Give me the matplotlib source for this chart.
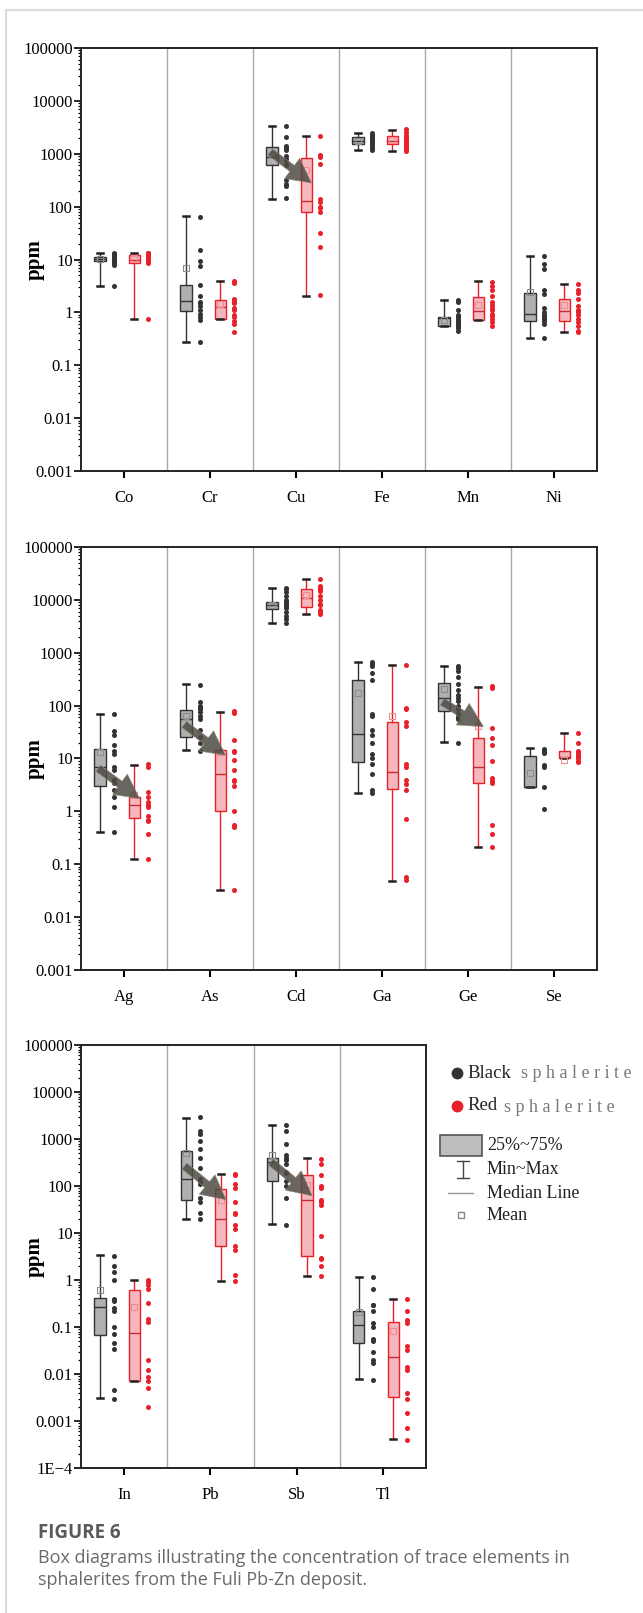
import numpy as np
import matplotlib.pyplot as plt
from matplotlib.lines import Line2D
from matplotlib.patches import Rectangle
from matplotlib.ticker import LogLocator, NullFormatter, FixedLocator, FixedFormatter

plt.rcParams['font.family'] = ['Liberation Serif', 'DejaVu Serif']

W, H = 643, 1613

# ---- panel 1 ----
elements_1 = ['Co', 'Cr', 'Cu', 'Fe', 'Mn', 'Ni']
# (min, q1, median, q3, max, mean)
black_box_1 = [
    (3.2, 9.2, 10.3, 11.3, 13.5, 10.2),
    (0.27, 1.07, 1.63, 3.3, 66, 6.8),
    (142, 606, 870, 1345, 3300, 950),
    (1165, 1500, 1750, 2100, 2475, 1750),
    (0.55, 0.55, 0.78, 0.82, 1.7, 0.72),
    (0.33, 0.69, 0.94, 2.3, 11.7, 2.4),
]
black_dots_1 = [
    [13.5, 12.8, 12, 11.5, 11, 10.5, 10.2, 10, 9.5, 9, 8.5, 8, 3.2],
    [65, 15, 9.5, 7.7, 3.3, 2.0, 1.6, 1.5, 1.3, 1.1, 0.95, 0.8, 0.72, 0.27],
    [3400, 2100, 1400, 1300, 1200, 900, 800, 650, 600, 315, 270, 250, 145],
    [2500, 2300, 2100, 2000, 1900, 1800, 1700, 1600, 1500, 1400, 1300, 1200],
    [1.75, 1.6, 1.1, 0.9, 0.85, 0.8, 0.75, 0.7, 0.65, 0.6, 0.55, 0.5, 0.45],
    [11.8, 8.2, 6.5, 2.6, 2.2, 1.2, 1.0, 0.9, 0.8, 0.75, 0.7, 0.6, 0.33],
]
red_box_1 = [
    (0.75, 8.7, 10, 12.3, 13, 10.5),
    (0.75, 0.75, 1.28, 1.75, 3.9, 1.46),
    (2.06, 78, 126, 822, 2150, 487),
    (1150, 1550, 1750, 2150, 2870, 1800),
    (0.73, 0.73, 1.05, 1.97, 3.85, 1.38),
    (0.42, 0.69, 1.05, 1.8, 3.5, 1.35),
]
red_dots_1 = [
    [13.5, 13, 12.5, 12, 11, 10.5, 10, 9.5, 9, 8.5, 0.75],
    [4, 3.6, 1.8, 1.7, 1.6, 1.5, 1.2, 1.1, 0.9, 0.8, 0.7, 0.6, 0.42],
    [2150, 950, 850, 650, 140, 120, 100, 95, 80, 32, 17, 2.1],
    [2900, 2600, 2300, 2100, 2000, 1800, 1700, 1500, 1400, 1300, 1200, 1150],
    [3.8, 3.2, 2.7, 2.0, 1.6, 1.35, 1.2, 1.1, 0.95, 0.85, 0.75, 0.65, 0.55],
    [3.5, 2.6, 2.3, 1.8, 1.3, 1.1, 1.0, 0.9, 0.75, 0.65, 0.55, 0.45, 0.42],
]
arrows_1 = [('Cu', 1080, 280)]

# ---- panel 2 ----
elements_2 = ['Ag', 'As', 'Cd', 'Ga', 'Ge', 'Se']
black_box_2 = [
    (0.4, 3.0, 6.8, 15.2, 70, 13.3),
    (14.7, 25.7, 57, 84, 260, 65),
    (3700, 6650, 8000, 9100, 17000, 8000),
    (2.2, 8.6, 29, 300, 670, 170),
    (20.6, 79, 141, 273, 560, 210),
    (2.9, 2.9, 2.9, 11.3, 15.6, 5.4),
]
black_dots_2 = [
    [70, 33, 28, 18, 14, 12, 7, 6, 4, 3.5, 2.5, 1.9, 1.2, 0.4],
    [250, 115, 100, 90, 85, 75, 65, 55, 35, 25, 20, 14],
    [17000, 16000, 14000, 12000, 10000, 9000, 8500, 8000, 7500, 7000, 6000, 5000, 4300, 3700],
    [680, 600, 550, 420, 300, 70, 65, 35, 28, 20, 12, 10, 8, 5, 2.5, 2.2],
    [560, 520, 450, 350, 260, 200, 160, 140, 120, 100, 85, 70, 60, 55, 20],
    [15, 14, 13, 12.5, 7.5, 7, 2.9, 1.1],
]
red_box_2 = [
    (0.123, 0.74, 1.3, 1.9, 7.7, 2.0),
    (0.033, 1.0, 5.2, 14.3, 76, 13),
    (5500, 7300, 10800, 16300, 24500, 12500),
    (0.049, 2.6, 5.6, 48, 580, 65),
    (0.21, 3.4, 6.8, 23.9, 226, 41),
    (10.1, 10.1, 10.5, 13.9, 30.6, 9.5),
]
red_dots_2 = [
    [7.8, 7, 2.3, 1.9, 1.5, 1.3, 1.2, 0.8, 0.7, 0.65, 0.38, 0.125],
    [78, 72, 22, 14, 13, 9.5, 6, 4, 3.8, 3, 1, 0.55, 0.5, 0.033],
    [25000, 18000, 17000, 16000, 15000, 12000, 10000, 8500, 8000, 6500, 6000, 5500],
    [580, 90, 85, 48, 42, 8, 7, 4, 3.3, 2.5, 0.72, 0.058, 0.05],
    [230, 215, 38, 24, 18, 9, 4.2, 3.8, 3.5, 0.55, 0.38, 0.21],
    [30, 20, 14, 13, 12, 11, 10.5, 10, 9, 8.5],
]
arrows_2 = [('Ag', 6.5, 1.75), ('As', 44, 11.5), ('Ge', 118, 40)]

# ---- panel 3 ----
elements_3 = ['In', 'Pb', 'Sb', 'Tl']
black_box_3 = [
    (0.0031, 0.068, 0.26, 0.42, 3.34, 0.62),
    (19.8, 51, 138, 550, 2850, 500),
    (15.6, 125, 320, 393, 1990, 450),
    (0.0077, 0.046, 0.11, 0.22, 1.14, 0.21),
]
black_dots_3 = [
    [3.3, 2, 1.5, 1, 0.4, 0.35, 0.25, 0.22, 0.1, 0.07, 0.045, 0.034, 0.0045, 0.003],
    [2900, 1500, 1300, 900, 600, 400, 240, 140, 130, 110, 55, 45, 27, 20],
    [2000, 1500, 800, 450, 400, 350, 300, 200, 190, 130, 100, 55, 15],
    [1.15, 0.65, 0.3, 0.29, 0.22, 0.12, 0.1, 0.055, 0.05, 0.03, 0.02, 0.017, 0.0075],
]
red_box_3 = [
    (0.007, 0.007, 0.074, 0.6, 0.98, 0.27),
    (0.95, 5.27, 20, 87.5, 178, 50),
    (1.2, 3.2, 50, 168, 390, 103),
    (0.00041, 0.0032, 0.023, 0.13, 0.39, 0.083),
]
red_dots_3 = [
    [1.0, 0.9, 0.8, 0.65, 0.33, 0.15, 0.13, 0.02, 0.012, 0.0085, 0.007, 0.005, 0.002],
    [180, 170, 110, 90, 45, 27, 25, 15, 12, 5.3, 4.3, 1.3, 0.95],
    [380, 300, 170, 100, 90, 50, 45, 40, 8.5, 3, 2.8, 2, 1.2],
    [0.4, 0.22, 0.14, 0.12, 0.04, 0.032, 0.014, 0.012, 0.004, 0.003, 0.0015, 0.0007, 0.0004],
]
arrows_3 = [('Pb', 265, 51), ('Sb', 323, 62)]

ytick_labels_a = ['0.001', '0.01', '0.1', '1', '10', '100', '1000', '10000', '100000']
ytick_labels_b = ['1E\u22124'] + ytick_labels_a

BLACK = '#333333'
RED = '#e8202a'


def draw_panel(ax, elements, bbox, bdots, rbox, rdots, arrows, exps, labels, width_px):
    n = len(elements)
    x = np.arange(n)
    groups = [
        (bbox, bdots, -0.28, -0.12, '#b0b0b0', BLACK, BLACK, '#8c8c8c'),
        (rbox, rdots, 0.12, 0.28, '#f5b7bd', RED, '#c42a30', '#f08a8f'),
    ]
    for stats, dots, boff, doff, face, edge, med, mean_c in groups:
        st = [dict(whislo=s[0], q1=s[1], med=s[2], q3=s[3], whishi=s[4],
                   mean=s[5], fliers=[]) for s in stats]
        ax.bxp(st, positions=x + boff, widths=0.13, capwidths=0.07,
               patch_artist=True, showmeans=True, manage_ticks=False,
               boxprops=dict(facecolor=face, edgecolor=edge, linewidth=1.0),
               whiskerprops=dict(color=edge, linewidth=1.0),
               capprops=dict(color='#222222', linewidth=1.8),
               medianprops=dict(color=med, linewidth=1.0),
               meanprops=dict(marker='s', markersize=4, markerfacecolor='none',
                              markeredgecolor=mean_c, markeredgewidth=0.8))
        for i, d in enumerate(dots):
            ax.scatter(np.full(len(d), x[i] + doff), d, s=13, color=edge,
                       linewidths=0, zorder=3)
    for b in x[:-1] + 0.5:
        ax.axvline(b, color='#a8a8a8', lw=1.0, zorder=0)
    for el, v0, v1 in arrows:
        i = elements.index(el)
        ax.annotate('', xy=(i + 0.18, v1), xytext=(i - 0.30, v0),
                    arrowprops=dict(arrowstyle='simple,head_length=1.45,head_width=1.5,tail_width=0.45',
                                    mutation_scale=12, fc='#4e4b43', ec='#8a867a',
                                    lw=0.5, alpha=0.85, shrinkA=0, shrinkB=0),
                    zorder=5)
    ax.set_yscale('log')
    ax.set_ylim(10.0 ** exps[0], 10.0 ** exps[-1])
    ax.set_xlim(-0.5, n - 0.5)
    ax.yaxis.set_major_locator(FixedLocator([10.0 ** e for e in exps]))
    ax.yaxis.set_major_formatter(FixedFormatter(labels))
    ax.yaxis.set_minor_locator(LogLocator(base=10, subs=np.arange(2, 10), numticks=100))
    ax.yaxis.set_minor_formatter(NullFormatter())
    ax.set_xticks(x)
    ax.set_xticklabels(elements, fontsize=12)
    ax.tick_params(axis='y', which='major', direction='out', length=5, width=1.2,
                   labelsize=12, pad=1)
    ax.tick_params(axis='y', which='minor', direction='out', length=2.5, width=0.9)
    ax.tick_params(axis='x', direction='out', length=5, width=1.5, pad=9)
    for sp in ax.spines.values():
        sp.set_linewidth(1.4)
        sp.set_color('#222222')
    ax.set_ylabel('ppm', fontsize=15, fontweight='bold')
    ax.yaxis.set_label_coords((45 - 81) / width_px, 0.5)


fig = plt.figure(figsize=(W / 100, H / 100), dpi=100)


def axes_at(left, top, right, bottom):
    return fig.add_axes([left / W, 1 - bottom / H, (right - left) / W, (bottom - top) / H])


ax1 = axes_at(81, 48, 597, 471)
ax2 = axes_at(81, 547, 597, 970)
ax3 = axes_at(81, 1045, 426, 1468)

draw_panel(ax1, elements_1, black_box_1, black_dots_1, red_box_1, red_dots_1,
           arrows_1, list(range(-3, 6)), ytick_labels_a, 516)
draw_panel(ax2, elements_2, black_box_2, black_dots_2, red_box_2, red_dots_2,
           arrows_2, list(range(-3, 6)), ytick_labels_a, 516)
draw_panel(ax3, elements_3, black_box_3, black_dots_3, red_box_3, red_dots_3,
           arrows_3, list(range(-4, 6)), ytick_labels_b, 345)


# legend drawn in pixel positions of the figure
def fx(px):
    return px / W


def fy(py):
    return 1 - py / H


fig.add_artist(Line2D([fx(457)], [fy(1073)], marker='o', markersize=7.5,
                      color=BLACK, lw=0))
fig.text(fx(467), fy(1073), 'Black', fontsize=13.5, color='#222222', va='center')
fig.text(fx(521), fy(1074), 's p h a l e r i t e', fontsize=13, color='#7a7a7a', va='center')
fig.add_artist(Line2D([fx(457)], [fy(1106)], marker='o', markersize=7.5,
                      color=RED, lw=0))
fig.text(fx(467), fy(1106), 'Red', fontsize=13.5, color='#222222', va='center')
fig.text(fx(504), fy(1107), 's p h a l e r i t e', fontsize=13, color='#7a7a7a', va='center')

fig.add_artist(Rectangle((fx(440), fy(1156)), fx(42), 21 / H, facecolor='#bdbdbd',
                         edgecolor='#555555', lw=1.2, transform=fig.transFigure))
fig.text(fx(487), fy(1146), '25%~75%', fontsize=13, color='#222222', va='center')
fig.add_artist(Line2D([fx(463), fx(463)], [fy(1161), fy(1178)], color='#444444', lw=1.0))
fig.add_artist(Line2D([fx(457), fx(469)], [fy(1161), fy(1161)], color='#444444', lw=1.0))
fig.add_artist(Line2D([fx(457), fx(469)], [fy(1178), fy(1178)], color='#444444', lw=1.0))
fig.text(fx(487), fy(1169), 'Min~Max', fontsize=13, color='#222222', va='center')
fig.add_artist(Line2D([fx(448), fx(473)], [fy(1193), fy(1193)], color='#999999', lw=1.0))
fig.text(fx(487), fy(1193), 'Median Line', fontsize=13, color='#222222', va='center')
fig.add_artist(Line2D([fx(461)], [fy(1215)], marker='s', markersize=4,
                      markerfacecolor='none', markeredgecolor='#888888', lw=0))
fig.text(fx(487), fy(1215), 'Mean', fontsize=13, color='#222222', va='center')

# page frame and caption
fig.add_artist(Line2D([fx(6), fx(643)], [fy(10), fy(10)], color='#dcdcdc', lw=1.5))
fig.add_artist(Line2D([fx(6), fx(6)], [fy(10), fy(1613)], color='#dcdcdc', lw=1.5))
fig.text(fx(38), fy(1533), 'FIGURE 6', fontsize=13.5, fontweight='bold',
         color='#5a5a5a', va='center', family=['Open Sans', 'DejaVu Sans'])
fig.text(fx(38), fy(1558), 'Box diagrams illustrating the concentration of trace elements in',
         fontsize=13, color='#6a6a6a', va='center', family=['Open Sans', 'DejaVu Sans'])
fig.text(fx(38), fy(1580), 'sphalerites from the Fuli Pb-Zn deposit.',
         fontsize=13, color='#6a6a6a', va='center', family=['Open Sans', 'DejaVu Sans'])

fig.savefig('out.png', dpi=100)
